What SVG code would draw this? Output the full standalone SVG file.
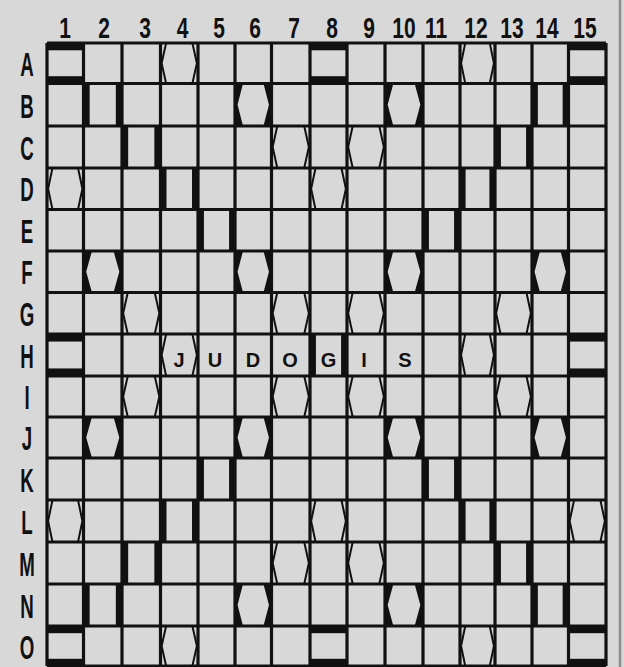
<svg xmlns="http://www.w3.org/2000/svg" xmlns:xlink="http://www.w3.org/1999/xlink" width="624" height="667" viewBox="0 0 624 667">
<style>
.lbl{font-family:"Liberation Sans",Arial,sans-serif;font-weight:bold;fill:#111;text-anchor:middle}
.col{font-size:30px}
.row{font-size:34px}
.tile{font-family:"Liberation Sans",Arial,sans-serif;font-weight:bold;font-size:20px;fill:#111;text-anchor:middle}
.grid{fill:none;stroke:#111;stroke-width:3.2}
</style>
<defs>
<symbol id="tw" viewBox="0 0 100 100" preserveAspectRatio="none"><rect x="0" y="0" width="100" height="18" fill="#111"/><rect x="0" y="82" width="100" height="18" fill="#111"/></symbol>
<symbol id="dw" viewBox="0 0 100 100" preserveAspectRatio="none"><rect x="0" y="0" width="16" height="100" fill="#111"/><rect x="84" y="0" width="16" height="100" fill="#111"/></symbol>
<symbol id="tl" viewBox="0 0 100 100" preserveAspectRatio="none"><path d="M0 0H100V100H0Z M22 0L7 50L22 100H78L93 50L78 0Z" fill="#111" fill-rule="evenodd"/></symbol>
<symbol id="dl" viewBox="0 0 100 100" preserveAspectRatio="none"><polygon points="15,0 3,50 15,100 85,100 97,50 85,0" fill="none" stroke="#111" stroke-width="2" vector-effect="non-scaling-stroke"/></symbol>
</defs>
<rect id="background" x="0" y="0" width="624" height="667" fill="#d8d8d8"/>
<line id="page-edge" x1="620" y1="0" x2="620" y2="667" stroke="#8c8c8c" stroke-width="2.5"/>
<g id="triple-word">
<use xlink:href="#tw" x="47" y="43" width="36.5" height="40.5"/>
<use xlink:href="#tw" x="310" y="43" width="37" height="40.5"/>
<use xlink:href="#tw" x="568.5" y="43" width="37.5" height="40.5"/>
<use xlink:href="#tw" x="47" y="334" width="36.5" height="42"/>
<use xlink:href="#tw" x="568.5" y="334" width="37.5" height="42"/>
<use xlink:href="#tw" x="47" y="626" width="36.5" height="40"/>
<use xlink:href="#tw" x="310" y="626" width="37" height="40"/>
<use xlink:href="#tw" x="568.5" y="626" width="37.5" height="40"/>
</g>
<g id="double-word">
<use xlink:href="#dw" x="83.5" y="83.5" width="38.5" height="42.5"/>
<use xlink:href="#dw" x="532" y="83.5" width="36.5" height="42.5"/>
<use xlink:href="#dw" x="122" y="126" width="38.5" height="42"/>
<use xlink:href="#dw" x="495" y="126" width="37" height="42"/>
<use xlink:href="#dw" x="160.5" y="168" width="37.5" height="41.5"/>
<use xlink:href="#dw" x="460" y="168" width="35" height="41.5"/>
<use xlink:href="#dw" x="198" y="209.5" width="37" height="41.5"/>
<use xlink:href="#dw" x="423" y="209.5" width="37" height="41.5"/>
<use xlink:href="#dw" x="310" y="334" width="37" height="42"/>
<use xlink:href="#dw" x="198" y="458" width="37" height="42"/>
<use xlink:href="#dw" x="423" y="458" width="37" height="42"/>
<use xlink:href="#dw" x="160.5" y="500" width="37.5" height="42"/>
<use xlink:href="#dw" x="460" y="500" width="35" height="42"/>
<use xlink:href="#dw" x="122" y="542" width="38.5" height="42"/>
<use xlink:href="#dw" x="495" y="542" width="37" height="42"/>
<use xlink:href="#dw" x="83.5" y="584" width="38.5" height="42"/>
<use xlink:href="#dw" x="532" y="584" width="36.5" height="42"/>
</g>
<g id="triple-letter">
<use xlink:href="#tl" x="235" y="83.5" width="36.5" height="42.5"/>
<use xlink:href="#tl" x="385" y="83.5" width="38" height="42.5"/>
<use xlink:href="#tl" x="83.5" y="251" width="38.5" height="41.5"/>
<use xlink:href="#tl" x="235" y="251" width="36.5" height="41.5"/>
<use xlink:href="#tl" x="385" y="251" width="38" height="41.5"/>
<use xlink:href="#tl" x="532" y="251" width="36.5" height="41.5"/>
<use xlink:href="#tl" x="83.5" y="417" width="38.5" height="41"/>
<use xlink:href="#tl" x="235" y="417" width="36.5" height="41"/>
<use xlink:href="#tl" x="385" y="417" width="38" height="41"/>
<use xlink:href="#tl" x="532" y="417" width="36.5" height="41"/>
<use xlink:href="#tl" x="235" y="584" width="36.5" height="42"/>
<use xlink:href="#tl" x="385" y="584" width="38" height="42"/>
</g>
<g id="double-letter">
<use xlink:href="#dl" x="160.5" y="43" width="37.5" height="40.5"/>
<use xlink:href="#dl" x="460" y="43" width="35" height="40.5"/>
<use xlink:href="#dl" x="271.5" y="126" width="38.5" height="42"/>
<use xlink:href="#dl" x="347" y="126" width="38" height="42"/>
<use xlink:href="#dl" x="47" y="168" width="36.5" height="41.5"/>
<use xlink:href="#dl" x="310" y="168" width="37" height="41.5"/>
<use xlink:href="#dl" x="122" y="292.5" width="38.5" height="41.5"/>
<use xlink:href="#dl" x="271.5" y="292.5" width="38.5" height="41.5"/>
<use xlink:href="#dl" x="347" y="292.5" width="38" height="41.5"/>
<use xlink:href="#dl" x="495" y="292.5" width="37" height="41.5"/>
<use xlink:href="#dl" x="160.5" y="334" width="37.5" height="42"/>
<use xlink:href="#dl" x="460" y="334" width="35" height="42"/>
<use xlink:href="#dl" x="122" y="376" width="38.5" height="41"/>
<use xlink:href="#dl" x="271.5" y="376" width="38.5" height="41"/>
<use xlink:href="#dl" x="347" y="376" width="38" height="41"/>
<use xlink:href="#dl" x="495" y="376" width="37" height="41"/>
<use xlink:href="#dl" x="47" y="500" width="36.5" height="42"/>
<use xlink:href="#dl" x="310" y="500" width="37" height="42"/>
<use xlink:href="#dl" x="568.5" y="500" width="37.5" height="42"/>
<use xlink:href="#dl" x="271.5" y="542" width="38.5" height="42"/>
<use xlink:href="#dl" x="347" y="542" width="38" height="42"/>
<use xlink:href="#dl" x="160.5" y="626" width="37.5" height="40"/>
<use xlink:href="#dl" x="460" y="626" width="35" height="40"/>
</g>
<g id="grid">
<path class="grid" d="M47 43V666M83.5 43V666M122 43V666M160.5 43V666M198 43V666M235 43V666M271.5 43V666M310 43V666M347 43V666M385 43V666M423 43V666M460 43V666M495 43V666M532 43V666M568.5 43V666M606 43V666"/>
<path class="grid" d="M47 43H606M47 83.5H606M47 126H606M47 168H606M47 209.5H606M47 251H606M47 292.5H606M47 334H606M47 376H606M47 417H606M47 458H606M47 500H606M47 542H606M47 584H606M47 626H606M47 666H606"/>
</g>
<g id="column-labels" class="lbl col">
<text transform="translate(65 38) scale(0.7 1)">1</text>
<text transform="translate(104 38) scale(0.7 1)">2</text>
<text transform="translate(145 38) scale(0.7 1)">3</text>
<text transform="translate(182.5 38) scale(0.7 1)">4</text>
<text transform="translate(219 38) scale(0.7 1)">5</text>
<text transform="translate(255 38) scale(0.7 1)">6</text>
<text transform="translate(294 38) scale(0.7 1)">7</text>
<text transform="translate(332 38) scale(0.7 1)">8</text>
<text transform="translate(369 38) scale(0.7 1)">9</text>
<text transform="translate(404 38) scale(0.7 1)">10</text>
<text transform="translate(436 38) scale(0.7 1)">11</text>
<text transform="translate(476 38) scale(0.7 1)">12</text>
<text transform="translate(512 38) scale(0.7 1)">13</text>
<text transform="translate(547 38) scale(0.7 1)">14</text>
<text transform="translate(585 38) scale(0.7 1)">15</text>
</g>
<g id="row-labels" class="lbl row">
<text transform="translate(27 76) scale(0.55 1)">A</text>
<text transform="translate(27 117.5) scale(0.55 1)">B</text>
<text transform="translate(27 159.5) scale(0.55 1)">C</text>
<text transform="translate(27 201) scale(0.55 1)">D</text>
<text transform="translate(27 242.5) scale(0.55 1)">E</text>
<text transform="translate(27 284) scale(0.55 1)">F</text>
<text transform="translate(27 325.5) scale(0.55 1)">G</text>
<text transform="translate(27 367.5) scale(0.55 1)">H</text>
<text transform="translate(27 409) scale(0.55 1)">I</text>
<text transform="translate(27 450) scale(0.55 1)">J</text>
<text transform="translate(27 491.5) scale(0.55 1)">K</text>
<text transform="translate(27 533.5) scale(0.55 1)">L</text>
<text transform="translate(27 575.5) scale(0.55 1)">M</text>
<text transform="translate(27 617.5) scale(0.55 1)">N</text>
<text transform="translate(27 658.5) scale(0.55 1)">O</text>
</g>
<g id="tiles" class="tile">
<text x="179" y="367">J</text>
<text x="215" y="367">U</text>
<text x="253" y="367">D</text>
<text x="290" y="367">O</text>
<text x="328.5" y="367">G</text>
<text x="364" y="367">I</text>
<text x="405" y="367">S</text>
</g>
</svg>
